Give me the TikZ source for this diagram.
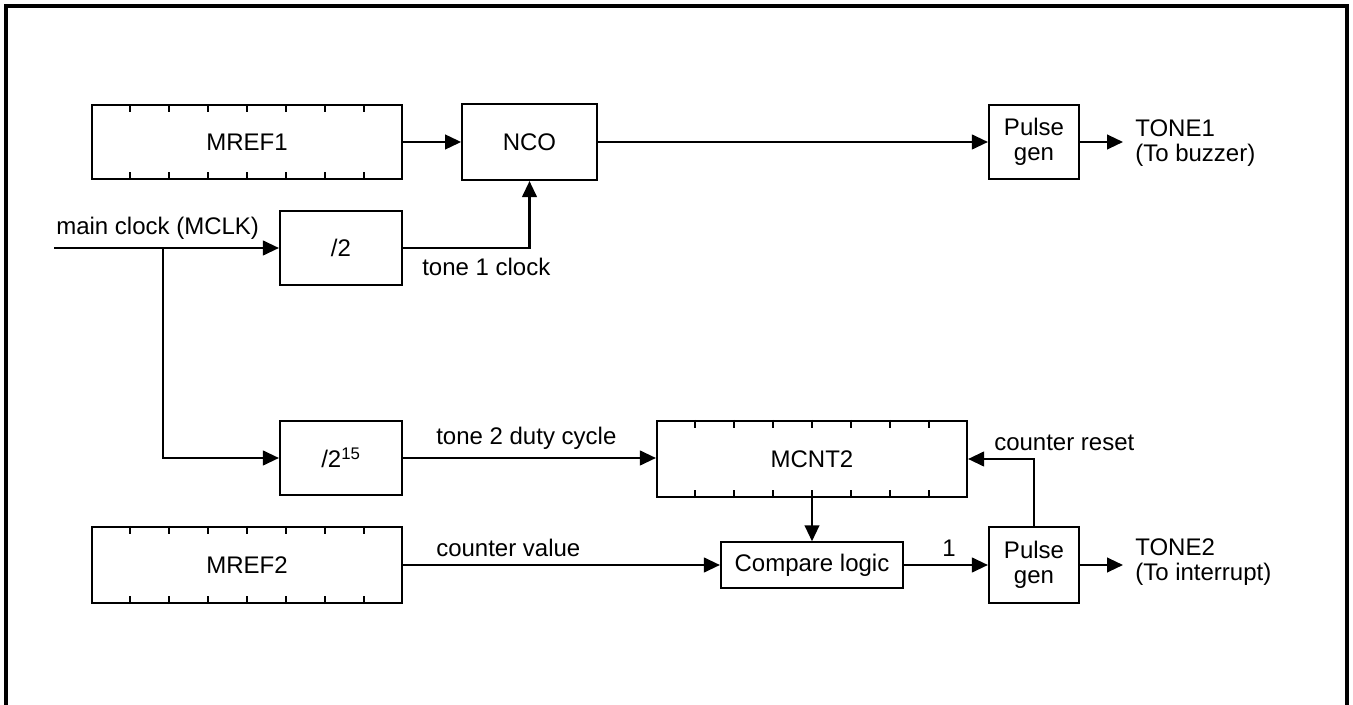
\documentclass[tikz,border=0pt]{standalone}
\usepackage{fontspec}
\setmainfont{Liberation Sans}
\usetikzlibrary{arrows.meta,calc}
\begin{document}
\begin{tikzpicture}[x=0.75pt,y=-0.75pt,
  font=\fontsize{18}{19}\selectfont,
  blk/.style={draw,line width=1.6pt,inner sep=0pt,align=center},
  arr/.style={line width=1.6pt,-{Triangle[length=12pt,width=11pt]}},
  lbl/.style={inner sep=0pt,anchor=west},
  frame/.style={line width=2.4pt}]
\useasboundingbox (0,0) rectangle (1353,705);
\draw[frame] (6,708) -- (6,6) -- (1347,6) -- (1347,708);

% blocks
\node[blk,minimum width=232.5pt,minimum height=55pt] (m1) at (247,142) {MREF1};
\node[blk,minimum width=101pt,minimum height=57pt] (nco) at (529.5,142) {NCO};
\node[blk,minimum width=67.5pt,minimum height=56pt] (p1) at (1034,142) {Pulse\\gen};
\node[blk,minimum width=91.5pt,minimum height=56pt] (d2) at (341,248) {/2};
\node[blk,minimum width=91.5pt,minimum height=56pt] (d15) at (341,458) {/2\textsuperscript{15}};
\node[blk,minimum width=232.5pt,minimum height=57pt] (mc) at (812,459) {MCNT2};
\node[blk,minimum width=136.5pt,minimum height=34pt] (cmp) at (812,565) {Compare logic};
\node[blk,minimum width=232.5pt,minimum height=57pt] (m2) at (247,565) {MREF2};
\node[blk,minimum width=67.5pt,minimum height=57pt] (p2) at (1034,565) {Pulse\\gen};

% register ticks
\foreach \r in {m1,mc,m2}{
  \foreach \i in {1,...,7}{
    \draw[line width=1.3pt] ($(\r.north west)!\i/8!(\r.north east)$) -- ++(0,8);
    \draw[line width=1.3pt] ($(\r.south west)!\i/8!(\r.south east)$) -- ++(0,-8);
  }
}

% connectors
\draw[arr] (m1.east) -- (nco.west);
\draw[arr] (nco.east) -- (p1.west);
\coordinate (t1) at (1123,142);
\draw[arr] (p1.east) -- (t1);
\node[lbl,align=left] (tone1) at (1135,143) {TONE1\\(To buzzer)};

\coordinate (clkin) at (54,248);
\coordinate (br) at (163,248);
\draw[arr] (clkin) -- (d2.west);
\node[lbl] (clkl) at (56,228) {main clock (MCLK)};
\draw[arr] (br) |- (d15.west);

\draw[arr] (d2.east) -| (nco.south);
\node[lbl] (t1c) at (422,267) {tone 1 clock};

\draw[arr] (d15.east) -- (d15.east -| mc.west);
\node[lbl] (t2d) at (436,438) {tone 2 duty cycle};

\draw[arr] (mc.south) -- (cmp.north);
\draw[arr] (m2.east) -- (cmp.west);
\node[lbl] (cv) at (436,548) {counter value};
\draw[arr] (cmp.east) -- (p2.west);
\node[lbl] (one) at (942,548) {1};

\draw[arr] (p2.north) |- (mc.east);
\node[lbl] (cr) at (994,443) {counter reset};

\coordinate (t2) at (1123,565);
\draw[arr] (p2.east) -- (t2);
\node[lbl,align=left] (tone2) at (1135,562) {TONE2\\(To interrupt)};
\end{tikzpicture}
\end{document}
